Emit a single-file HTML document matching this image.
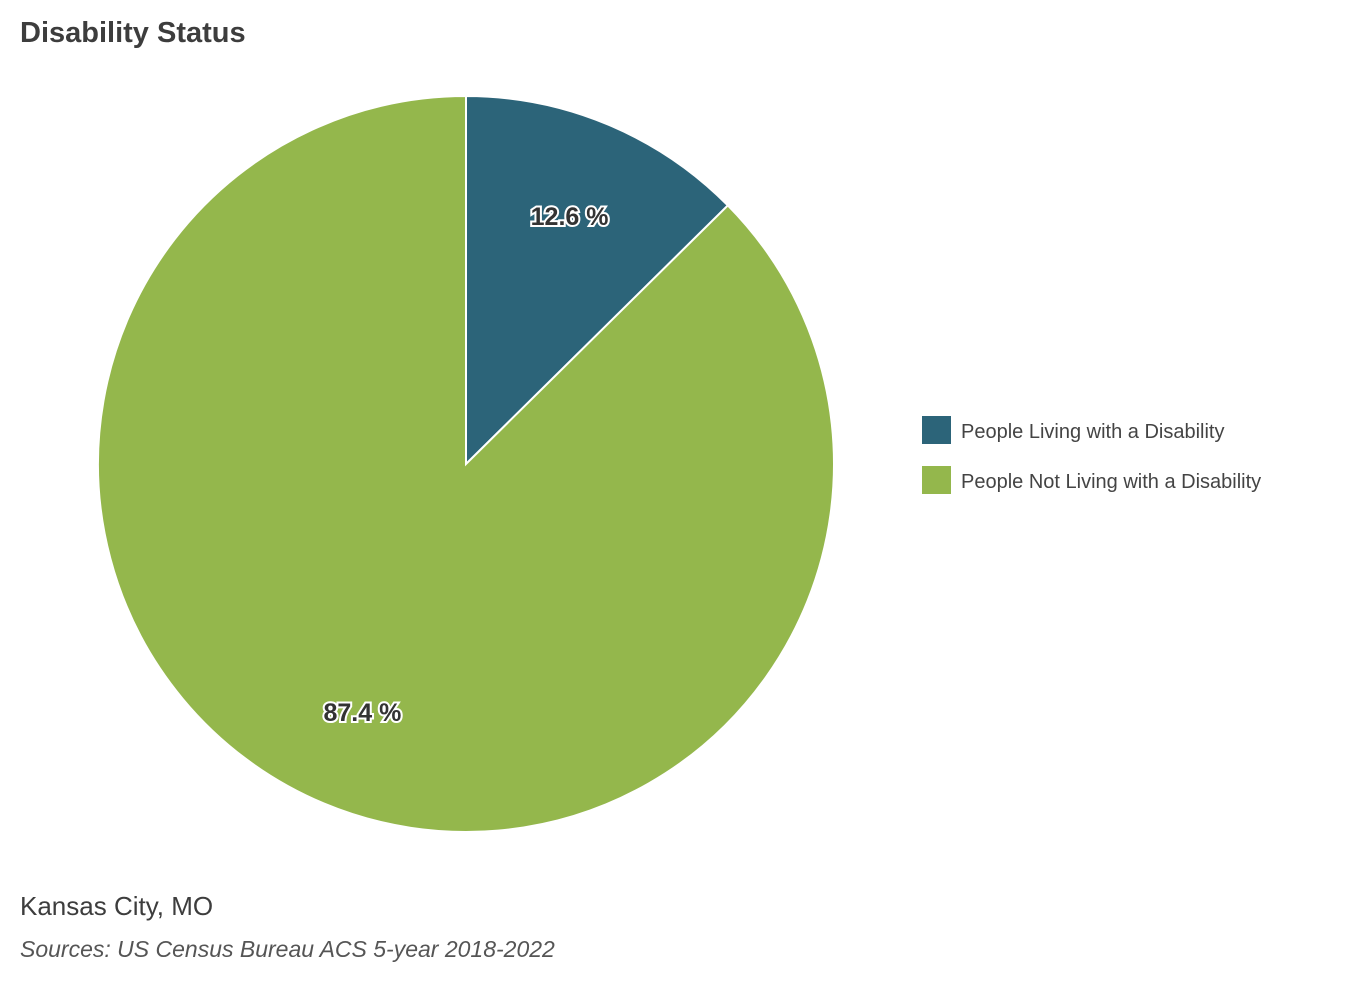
<!DOCTYPE html>
<html><head><meta charset="utf-8"><style>
body{margin:0;width:1360px;height:992px;background:#fff;font-family:"Liberation Sans",sans-serif;overflow:hidden}
</style></head><body>
<svg width="1360" height="992">
<text x="20" y="42" font-size="29" font-weight="bold" fill="#3d3d3d">Disability Status</text>
<g id="pie"></g>
<g id="legend"></g>
<text x="20" y="915" font-size="26" fill="#3d3d3d">Kansas City, MO</text>
<text x="20" y="957" font-size="23" font-style="italic" fill="#555">Sources: US Census Bureau ACS 5-year 2018-2022</text>
</svg>
<script>
const categories=["People Living with a Disability","People Not Living with a Disability"];
const values=[12.6,87.4];
const colors=["#2c6479","#94b74c"];
const ns="http://www.w3.org/2000/svg";
const cx=466,cy=464,r=368;
const pie=document.getElementById('pie');
const total=values.reduce((a,b)=>a+b,0);
let a0=0;
function pt(a,rr){return [cx+rr*Math.sin(a),cy-rr*Math.cos(a)];}
values.forEach((v,i)=>{
  const a1=a0+v/total*2*Math.PI;
  const [x0,y0]=pt(a0,r),[x1,y1]=pt(a1,r);
  const p=document.createElementNS(ns,'path');
  p.setAttribute('d',`M${cx},${cy}L${x0},${y0}A${r},${r} 0 ${a1-a0>Math.PI?1:0} 1 ${x1},${y1}Z`);
  p.setAttribute('fill',colors[i]);p.setAttribute('stroke','#fff');p.setAttribute('stroke-width','2');
  
  
  pie.appendChild(p);
  const am=(a0+a1)/2;const [lx,ly]=pt(am,r*0.73);
  const t=document.createElementNS(ns,'text');
  t.setAttribute('x',lx);t.setAttribute('y',ly+9);t.setAttribute('text-anchor','middle');
  t.setAttribute('font-size','25');t.setAttribute('font-weight','bold');t.setAttribute('fill','#333');
  t.setAttribute('stroke','#fff');t.setAttribute('stroke-width','4');t.setAttribute('paint-order','stroke');
  t.textContent=v.toFixed(1)+' %';
  
  
  pie.appendChild(t);
  a0=a1;
});
const lg=document.getElementById('legend');
categories.forEach((c,i)=>{
  const y=416+i*50;
  const rc=document.createElementNS(ns,'rect');
  rc.setAttribute('x',922);rc.setAttribute('y',y);rc.setAttribute('width',29);rc.setAttribute('height',28);rc.setAttribute('fill',colors[i]);
  
  
  lg.appendChild(rc);
  const t=document.createElementNS(ns,'text');
  t.setAttribute('x',961);t.setAttribute('y',y+22);t.setAttribute('font-size','20');t.setAttribute('fill','#444');
  t.textContent=c;
  
  
  lg.appendChild(t);
});
</script>
</body></html>
